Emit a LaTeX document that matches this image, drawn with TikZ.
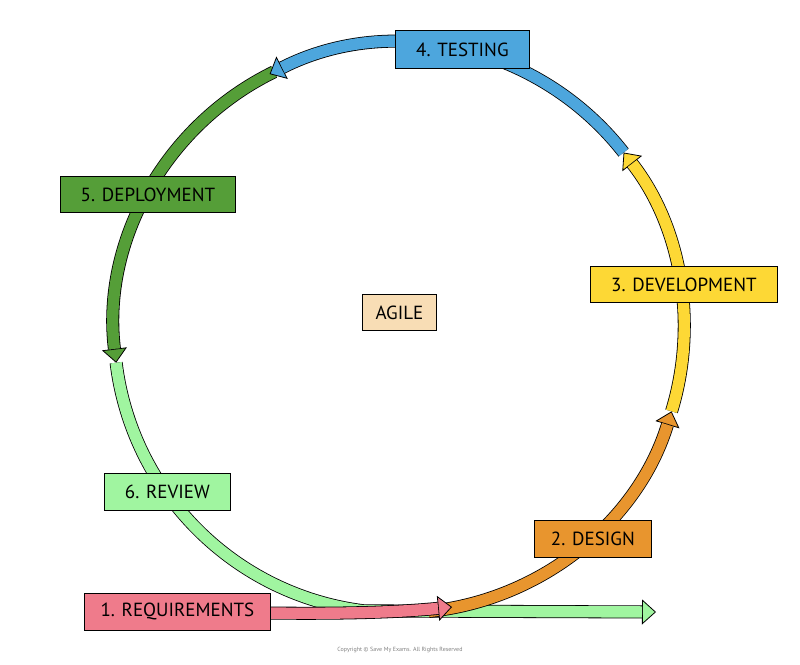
\documentclass[tikz,border=0pt]{standalone}
\usepackage{fontspec}
\setmainfont{PT Sans}
\usetikzlibrary{arrows.meta}
\definecolor{cBlue}{HTML}{4DA6DD}
\definecolor{cYel}{HTML}{FDD835}
\definecolor{cOra}{HTML}{E8952E}
\definecolor{cPink}{HTML}{EF7B8B}
\definecolor{cLG}{HTML}{A0F5A0}
\definecolor{cDG}{HTML}{559E38}
\definecolor{cTan}{HTML}{F8DDB5}
\newcommand\band[2]{%
  \draw[line width=13pt,black,-{Triangle[length=14pt,width=25pt,line width=0.8pt,fill=#1,color=black]}] #2;
  \draw[line width=11.4pt,#1,shorten >=14pt] #2;}
\begin{document}
\begin{tikzpicture}[x=1pt,y=-1pt,
  lbl/.style={draw=black,line width=0.8pt,inner sep=0pt,font=\fontsize{19}{21}\selectfont,anchor=north west}]
\useasboundingbox (0,0) rectangle (800,664);
\coordinate (c) at (399,328);
\def\r{285}
\band{cLG}{(c) ++(173:\r) arc[start angle=173,end angle=97,radius=\r] -- (656,612)}
\band{cDG}{(c) ++(-116:\r) arc[start angle=-116,end angle=-187,radius=\r]}
\band{cBlue}{(c) ++(-38:\r) arc[start angle=-38,end angle=-117,radius=\r]}
\band{cYel}{(c) ++(17:\r) arc[start angle=17,end angle=-38,radius=\r]}
\band{cOra}{(c) ++(84:\r) arc[start angle=84,end angle=17,radius=\r]}
\band{cPink}{(265,613) .. controls (350,614) and (400,612) .. (452,607)}
\node[lbl,fill=cBlue,minimum width=134pt,minimum height=38pt] (t) at (395,30) {4. TESTING};
\node[lbl,fill=cYel,minimum width=187pt,minimum height=36pt] (d) at (590,266) {3. DEVELOPMENT};
\node[lbl,fill=cOra,minimum width=117pt,minimum height=37pt] (g) at (534,520) {2. DESIGN};
\node[lbl,fill=cPink,minimum width=186pt,minimum height=37pt] (q) at (84,593) {1. REQUIREMENTS};
\node[lbl,fill=cLG,minimum width=126pt,minimum height=37pt] (v) at (104,473) {6. REVIEW};
\node[lbl,fill=cDG,minimum width=175pt,minimum height=36pt] (p) at (60,176) {5. DEPLOYMENT};
\node[lbl,fill=cTan,minimum width=74pt,minimum height=36pt] (a) at (362,294) {AGILE};
\node[text=gray,font=\fontsize{6}{7}\selectfont] (cp) at (400,650) {Copyright © Save My Exams. All Rights Reserved};
\end{tikzpicture}
\end{document}
